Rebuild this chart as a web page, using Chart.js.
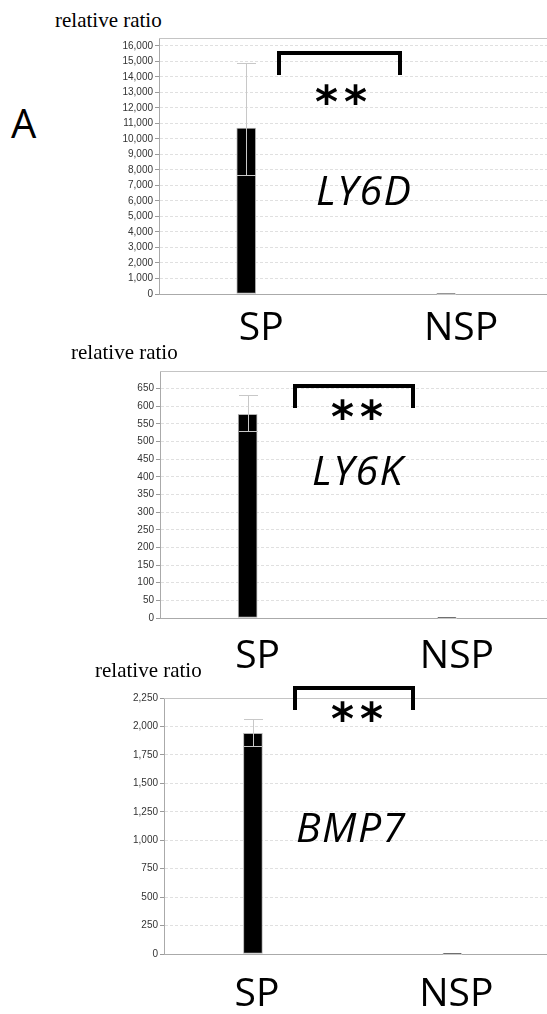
<!DOCTYPE html>
<html>
<head>
<meta charset="utf-8">
<script src="https://cdn.jsdelivr.net/npm/chart.js@4.4.1/dist/chart.umd.min.js"></script>
<style>
  body { margin: 0; background: #fff; width: 547px; height: 1014px; position: relative; overflow: hidden; }
  canvas { position: absolute; left: 0; }
  .txt { position: absolute; white-space: nowrap; line-height: 1; color: #000; }
  .ratio { font-family: 'Liberation Serif', serif; font-size: 21px; }
  .big { font-family: 'Open Sans', sans-serif; font-size: 40px; }
  .gene { font-family: 'Open Sans', sans-serif; font-style: italic; font-size: 41px; letter-spacing: 1.5px; }
  .stars { font-family: 'DejaVu Sans', sans-serif; font-weight: bold; font-size: 44px; letter-spacing: 6px; }
  .bracket { position: absolute; border: 4px solid #000; border-bottom: none; box-sizing: border-box; }
</style>
</head>
<body>
<div class="txt big" style="left:11px; top:103px;">A</div>

<div class="txt ratio" style="left:55px; top:10px;">relative ratio</div>
<canvas id="ly6d" width="547" height="324" style="top:30px;"></canvas>
<div class="bracket" style="left:277px; top:51px; width:125px; height:24px;"></div>
<div class="txt stars" style="left:315px; top:80px;">**</div>
<div class="txt gene" style="left:316px; top:169px;">LY6D</div>

<div class="txt ratio" style="left:71px; top:342px;">relative ratio</div>
<canvas id="ly6k" width="547" height="315" style="top:363px;"></canvas>
<div class="bracket" style="left:293px; top:384px; width:122px; height:24px;"></div>
<div class="txt stars" style="left:331px; top:395px;">**</div>
<div class="txt gene" style="left:312px; top:449px;">LY6K</div>

<div class="txt ratio" style="left:95px; top:660px;">relative ratio</div>
<canvas id="bmp7" width="547" height="324" style="top:690px;"></canvas>
<div class="bracket" style="left:293px; top:686px; width:122px; height:24px;"></div>
<div class="txt stars" style="left:331px; top:697px;">**</div>
<div class="txt gene" style="left:296px; top:806px;">BMP7</div>

<script>
const categories = ['SP', 'NSP'];

const ly6dValues = [10700, 1];
const ly6dLow = [7700, 1];
const ly6dHigh = [14900, 1];

const ly6kValues = [577, 1];
const ly6kLow = [530, 1];
const ly6kHigh = [631, 1];

const bmp7Values = [1940, 1];
const bmp7Low = [1828, 1];
const bmp7High = [2065, 1];

// y axis: top of the frame, last labelled tick, step between ticks
const yMax = [16500, 700, 2250];
const yLastTick = [16000, 650, 2250];
const yStep = [1000, 50, 250];

const errorBars = {
    id: 'errorBars',
    afterDatasetsDraw(chart, args, opts) {
        const ctx = chart.ctx;
        const y = chart.scales.y;
        chart.getDatasetMeta(0).data.forEach((bar, i) => {
            const lo = Math.round(y.getPixelForValue(opts.low[i])) + 0.5;
            const hi = Math.round(y.getPixelForValue(opts.high[i])) + 0.5;
            const x = Math.round(bar.x) + 0.5;
            const half = bar.width / 2;
            ctx.save();
            ctx.strokeStyle = '#c8c8c8';
            ctx.lineWidth = 1;
            ctx.beginPath();
            ctx.moveTo(x, lo);
            ctx.lineTo(x, hi);
            ctx.moveTo(x - half, hi);
            ctx.lineTo(x + half, hi);
            ctx.moveTo(x - half, lo);
            ctx.lineTo(x + half, lo);
            ctx.stroke();
            ctx.restore();
        });
    }
};

const topLine = {
    id: 'topLine',
    afterDraw(chart) {
        const ctx = chart.ctx;
        const a = chart.chartArea;
        ctx.save();
        ctx.strokeStyle = '#c4c4c4';
        ctx.lineWidth = 1;
        ctx.beginPath();
        ctx.moveTo(a.left, Math.round(a.top) + 0.5);
        ctx.lineTo(a.right, Math.round(a.top) + 0.5);
        ctx.stroke();
        ctx.restore();
    }
};

function painel(id, values, low, high, n, left, xMin, xMax, labelOffset, labelPad) {
    const data = {
        datasets: [{
            data: values.map((v, i) => ({x: i, y: v})),
            backgroundColor: '#000',
            borderColor: '#b4b4b4',
            borderWidth: 1,
            borderSkipped: false,
            barThickness: 19
        }]
    };
    const config = {
        type: 'bar',
        data: data,
        options: {
            responsive: false,
            animation: false,
            layout: { padding: 0 },
            plugins: {
                legend: { display: false },
                tooltip: { enabled: false },
                errorBars: { low: low, high: high }
            },
            scales: {
                x: {
                    type: 'linear',
                    offset: false,
                    min: xMin,
                    max: xMax,
                    afterBuildTicks: (scale) => {
                        scale.ticks = categories.map((c, i) => ({value: i}));
                    },
                    afterFit: (scale) => { scale.height = 60; },
                    grid: { display: false, drawTicks: false },
                    border: { color: '#aaa' },
                    ticks: {
                        callback: (v) => categories[v],
                        font: { family: 'Open Sans', size: 39 },
                        color: '#000',
                        padding: labelPad,
                        labelOffset: labelOffset,
                        maxRotation: 0,
                        autoSkip: false
                    }
                },
                y: {
                    min: 0,
                    max: yMax[n],
                    afterBuildTicks: (scale) => {
                        const t = [];
                        for (let v = 0; v <= yLastTick[n]; v += yStep[n]) {
                            t.push({value: v});
                        }
                        scale.ticks = t;
                    },
                    afterFit: (scale) => { scale.width = left; },
                    grid: { color: '#e0e0e0', tickLength: 4, tickColor: '#9a9a9a' },
                    border: { color: '#aaa', dash: [3, 2] },
                    ticks: {
                        stepSize: yStep[n],
                        font: { family: 'Liberation Sans', size: 10 },
                        color: '#333',
                        padding: 2,
                        autoSkip: false
                    }
                }
            }
        },
        plugins: [errorBars, topLine]
    };
    return new Chart(document.getElementById(id), config);
}

painel('ly6d', ly6dValues, ly6dLow, ly6dHigh, 0, 159, -0.4365, 1.505, 15, 11);
painel('ly6k', ly6kValues, ly6kLow, ly6kHigh, 1, 160, -0.44, 1.5025, 10, 15);
painel('bmp7', bmp7Values, bmp7Low, bmp7High, 2, 164, -0.446, 1.475, 4, 17);
</script>
</body>
</html>
